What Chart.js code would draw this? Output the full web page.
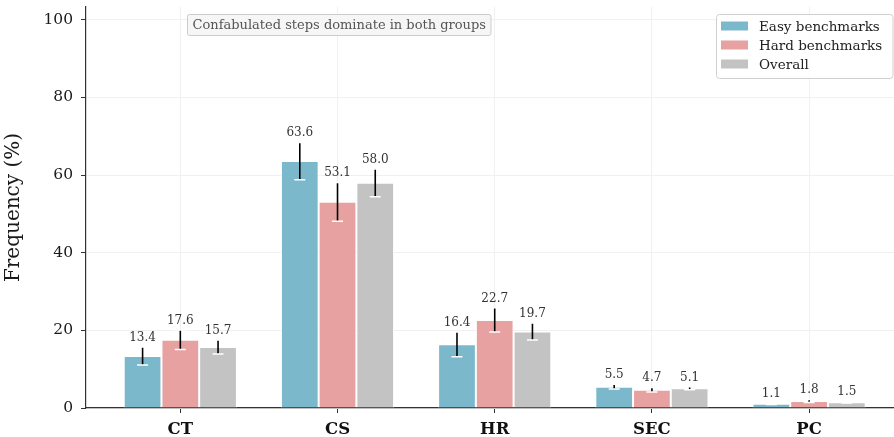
<!DOCTYPE html>
<html>
<head>
<meta charset="utf-8">
<script src="https://cdn.jsdelivr.net/npm/chart.js@4.4.1/dist/chart.umd.min.js"></script>
<style>
  body { margin: 0; background: #fff; }
  #wrap { width: 894px; height: 437px; position: relative; }
</style>
</head>
<body>
<div id="wrap"><canvas id="errChart"></canvas></div>
<script>
// Categories and series
const categories = ['CT', 'CS', 'HR', 'SEC', 'PC'];
const easyVals = [13.4, 63.6, 16.4, 5.5, 1.1];
const hardVals = [17.6, 53.1, 22.7, 4.7, 1.8];
const overallVals = [15.7, 58.0, 19.7, 5.1, 1.5];
// Error bar half-widths
const easyErr = [2.3, 4.8, 3.2, 0.6, 0.2];
const hardErr = [2.5, 5.0, 3.1, 0.6, 0.4];
const overallErr = [1.8, 3.6, 2.2, 0.4, 0.2];
const yTicks = [0, 20, 40, 60, 80, 100];

const note = 'Confabulated steps dominate in both groups';
const FONT = "'DejaVu Serif', serif";

const colors = {
    easy: '#7bb8cb',
    hard: '#e8a1a1',
    overall: '#c3c3c3'
};

function toPoints(vals) {
    return vals.map((v, i) => ({ x: i, y: v }));
}

// Error bars + value labels drawn on top of the bars
const errorBarPlugin = {
    id: 'errorBars',
    afterDatasetsDraw(chart) {
        const c = chart.ctx;
        const y = chart.scales.y;
        chart.data.datasets.forEach((ds, di) => {
            const meta = chart.getDatasetMeta(di);
            meta.data.forEach((bar, i) => {
                const v = ds.data[i].y;
                const e = ds.errors[i];
                const top = y.getPixelForValue(v + e);
                const bot = y.getPixelForValue(v - e);
                c.save();
                c.strokeStyle = '#000';
                c.lineWidth = 1.6;
                c.beginPath();
                c.moveTo(bar.x, top);
                c.lineTo(bar.x, bot);
                c.stroke();
                c.strokeStyle = '#fff';
                c.lineWidth = 1.5;
                c.beginPath();
                c.moveTo(bar.x - 5.5, bot);
                c.lineTo(bar.x + 5.5, bot);
                c.moveTo(bar.x - 5.5, top);
                c.lineTo(bar.x + 5.5, top);
                c.stroke();
                c.fillStyle = '#333';
                c.font = '12px ' + FONT;
                c.textAlign = 'center';
                c.textBaseline = 'alphabetic';
                c.fillText(v.toFixed(1), bar.x, top - 6);
                c.restore();
            });
        });
    }
};

// Legend box in the top right and the note box in the top left
const boxesPlugin = {
    id: 'boxes',
    afterDraw(chart) {
        const c = chart.ctx;
        const area = chart.chartArea;
        c.save();

        // note
        c.font = '13px ' + FONT;
        const tw = c.measureText(note).width;
        const nx = 187, ny = 14;
        c.fillStyle = 'rgba(245,245,245,0.9)';
        c.strokeStyle = '#cccccc';
        c.lineWidth = 1;
        c.beginPath();
        c.roundRect(nx + 0.5, ny + 0.5, tw + 10, 21, 2);
        c.fill();
        c.stroke();
        c.fillStyle = '#555';
        c.textBaseline = 'middle';
        c.textAlign = 'left';
        c.fillText(note, nx + 5.5, ny + 11.5);

        // legend
        const lx = 716, ly = 14, lw = area.right - lx - 1.5, lh = 64;
        c.fillStyle = 'rgba(255,255,255,0.85)';
        c.strokeStyle = '#d0d0d0';
        c.beginPath();
        c.roundRect(lx + 0.5, ly + 0.5, lw, lh, 3);
        c.fill();
        c.stroke();
        c.font = '13.5px ' + FONT;
        chart.data.datasets.forEach((ds, i) => {
            const cy = ly + 12 + i * 19;
            c.fillStyle = ds.backgroundColor;
            c.fillRect(lx + 5, cy - 4.5, 27, 9);
            c.fillStyle = '#222';
            c.fillText(ds.label, lx + 43, cy + 1);
        });
        c.restore();
    }
};

document.addEventListener('DOMContentLoaded', function () {
    const ctx = document.getElementById('errChart').getContext('2d');
    new Chart(ctx, {
        type: 'bar',
        data: {
            datasets: [
                { label: 'Easy benchmarks', data: toPoints(easyVals), errors: easyErr, backgroundColor: colors.easy, borderColor: '#fff', borderWidth: 1 },
                { label: 'Hard benchmarks', data: toPoints(hardVals), errors: hardErr, backgroundColor: colors.hard, borderColor: '#fff', borderWidth: 1 },
                { label: 'Overall', data: toPoints(overallVals), errors: overallErr, backgroundColor: colors.overall, borderColor: '#fff', borderWidth: 1 }
            ]
        },
        options: {
            responsive: true,
            maintainAspectRatio: false,
            animation: false,
            categoryPercentage: 0.72,
            barPercentage: 1.0,
            layout: { padding: { top: 7, right: 0, left: 0, bottom: 0 } },
            plugins: { legend: { display: false }, tooltip: { enabled: false } },
            scales: {
                x: {
                    type: 'linear',
                    offset: false,
                    min: -0.6,
                    max: 4.54,
                    afterBuildTicks: s => { s.ticks = categories.map((_, i) => ({ value: i })); },
                    afterFit: s => { s.height = 29; s.paddingLeft = 0; s.paddingRight = 0; },
                    ticks: {
                        callback: v => categories[v],
                        font: { family: FONT, size: 16.5, weight: 'bold' },
                        color: '#111',
                        padding: 7,
                        autoSkip: false,
                        maxRotation: 0
                    },
                    grid: { offset: false, color: '#f0f0f0', tickColor: '#333', tickLength: 5 },
                    border: { color: '#333', width: 1.2 }
                },
                y: {
                    min: 0,
                    max: 103.3,
                    afterBuildTicks: s => { s.ticks = yTicks.map(v => ({ value: v })); },
                    afterFit: s => { s.width = 86; s.paddingTop = 0; s.paddingBottom = 0; },
                    ticks: {
                        font: { family: FONT, size: 15.5 },
                        color: '#1a1a1a',
                        padding: 8
                    },
                    title: {
                        display: true,
                        text: 'Frequency (%)',
                        font: { family: FONT, size: 20 },
                        color: '#1a1a1a',
                        padding: { top: 2, bottom: 4 }
                    },
                    grid: { color: '#f0f0f0', tickColor: '#333', tickLength: 5 },
                    border: { color: '#333', width: 1.2 }
                }
            }
        },
        plugins: [errorBarPlugin, boxesPlugin]
    });
});
</script>
</body>
</html>
